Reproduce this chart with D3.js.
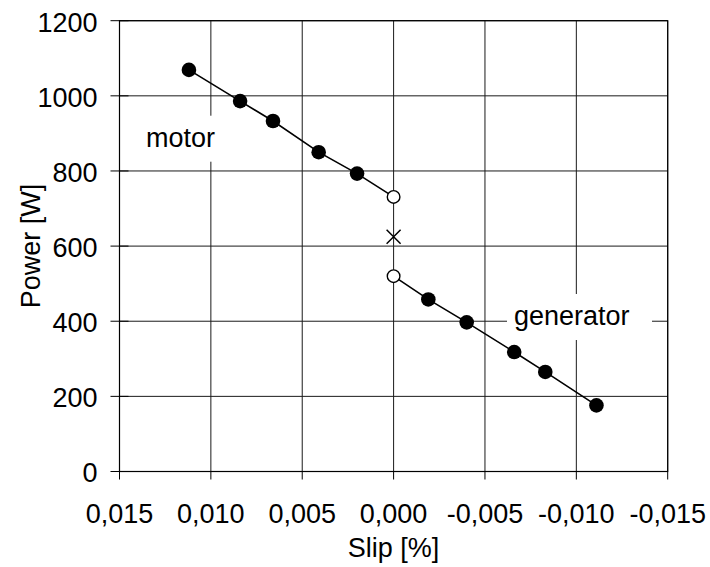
<!DOCTYPE html>
<html>
<head>
<meta charset="utf-8">
<script src="https://cdn.jsdelivr.net/npm/d3@7"></script>
<style>
  body { margin: 0; background: #fff; }
  text { font-family: Arial, "Liberation Sans", sans-serif; fill: #000; }
</style>
</head>
<body>
<div class="chart"></div>
<script>
// data
var xTicks = [0.015, 0.010, 0.005, 0.000, -0.005, -0.010, -0.015];
var yTicks = [0, 200, 400, 600, 800, 1000, 1200];

var motorSlip  = [0.0112, 0.0084, 0.0066, 0.0041, 0.0020, 0.0000];
var motorPower = [1069, 986, 933, 850, 793, 731];
var genSlip    = [0.0000, -0.0019, -0.0040, -0.0066, -0.0083, -0.0111];
var genPower   = [520, 458, 397, 318, 265, 176];
var openIdx = {motor: 5, gen: 0};   // the points at zero slip are drawn hollow
var crossSlip = [0.0000];
var crossPower = [625];

var PL = {}; // plot layout
PL.width = 710;
PL.height = 567;
PL.left = 119.5;
PL.right = 667.7;
PL.top = 20.7;
PL.bottom = 471.5;
PL.font = 27;

var svg = d3.select(".chart").append("svg")
    .attr("width", PL.width)
    .attr("height", PL.height);

// slip axis runs from positive to negative
var x = d3.scaleLinear().domain([0.015, -0.015]).range([PL.left, PL.right]);
var y = d3.scaleLinear().domain([0, 1200]).range([PL.bottom, PL.top]);

var loc = d3.formatLocale({decimal: ",", thousands: ".", grouping: [3], currency: ["", ""], minus: "-"});
var fx = loc.format(".3f");

// grid
var grid = svg.append("g").attr("class", "grid")
    .attr("stroke", "#1a1a1a").attr("stroke-width", 1);
grid.selectAll("line.h").data(yTicks).enter().append("line")
    .attr("x1", PL.left).attr("x2", PL.right)
    .attr("y1", function(d) { return y(d); })
    .attr("y2", function(d) { return y(d); });
grid.selectAll("line.v").data(xTicks).enter().append("line")
    .attr("y1", PL.top).attr("y2", PL.bottom)
    .attr("x1", function(d) { return x(d); })
    .attr("x2", function(d) { return x(d); });

// frame
svg.append("rect")
    .attr("x", PL.left).attr("y", PL.top)
    .attr("width", PL.right - PL.left).attr("height", PL.bottom - PL.top)
    .attr("fill", "none").attr("stroke", "#000").attr("stroke-width", 1.2);

// y axis: cross ticks
var yAxis = svg.append("g").attr("class", "yaxis");
yAxis.selectAll("line").data(yTicks).enter().append("line")
    .attr("x1", PL.left - 9).attr("x2", PL.left + 9)
    .attr("y1", function(d) { return y(d); })
    .attr("y2", function(d) { return y(d); })
    .attr("stroke", "#000");
yAxis.selectAll("text").data(yTicks).enter().append("text")
    .attr("x", PL.left - 22)
    .attr("y", function(d) { return y(d); })
    .attr("dy", "0.4em")
    .attr("text-anchor", "end")
    .style("font-size", PL.font + "px")
    .text(function(d) { return d; });

// x axis: ticks below only
var xAxis = svg.append("g").attr("class", "xaxis");
xAxis.selectAll("line").data(xTicks).enter().append("line")
    .attr("x1", function(d) { return x(d); })
    .attr("x2", function(d) { return x(d); })
    .attr("y1", PL.bottom).attr("y2", PL.bottom + 8)
    .attr("stroke", "#000");
xAxis.selectAll("text").data(xTicks).enter().append("text")
    .attr("x", function(d) { return x(d); })
    .attr("y", 523)
    .attr("text-anchor", "middle")
    .style("font-size", PL.font + "px")
    .text(function(d) { return fx(d); });

// axis titles
svg.append("text")
    .attr("x", (PL.left + PL.right) / 2)
    .attr("y", 557)
    .attr("text-anchor", "middle")
    .style("font-size", PL.font + "px")
    .text("Slip [%]");
svg.append("text")
    .attr("transform", "translate(40," + (PL.top + PL.bottom) / 2 + ") rotate(-90)")
    .attr("text-anchor", "middle")
    .style("font-size", PL.font + "px")
    .text("Power [W]");

// text boxes with white background (they hide the grid behind them)
function label(txt, tx, baseline, boxLeft, boxRight) {
  svg.append("rect")
      .attr("x", boxLeft).attr("y", baseline - 31)
      .attr("width", boxRight - boxLeft).attr("height", 46)
      .attr("fill", "#fff");
  svg.append("text")
      .attr("x", tx).attr("y", baseline)
      .style("font-size", PL.font + "px")
      .text(txt);
}
label("motor", 146, 146.7, 139, 219);
label("generator", 514, 325, 507, 652);

// series lines
var line = d3.line()
    .x(function(d) { return x(d[0]); })
    .y(function(d) { return y(d[1]); });

var motor = d3.zip(motorSlip, motorPower);
var gen = d3.zip(genSlip, genPower);

[motor, gen].forEach(function(s) {
  svg.append("path")
      .datum(s)
      .attr("d", line)
      .attr("fill", "none")
      .attr("stroke", "#000")
      .attr("stroke-width", 1.6);
});

// markers
function dots(s, hollow) {
  svg.append("g").selectAll("circle")
      .data(s).enter().append("circle")
      .attr("cx", function(d) { return x(d[0]); })
      .attr("cy", function(d) { return y(d[1]); })
      .attr("r", function(d, i) { return i === hollow ? 6.3 : 7.3; })
      .attr("fill", function(d, i) { return i === hollow ? "#fff" : "#000"; })
      .attr("stroke", "#000")
      .attr("stroke-width", function(d, i) { return i === hollow ? 1.4 : 0; });
}
dots(motor, openIdx.motor);
dots(gen, openIdx.gen);

// cross marker
var cross = d3.zip(crossSlip, crossPower);
svg.append("g").selectAll("path")
    .data(cross).enter().append("path")
    .attr("transform", function(d) { return "translate(" + x(d[0]) + "," + y(d[1]) + ")"; })
    .attr("d", "M-7,-7L7,7M-7,7L7,-7")
    .attr("stroke", "#000")
    .attr("stroke-width", 1.5)
    .attr("fill", "none");
</script>
</body>
</html>
